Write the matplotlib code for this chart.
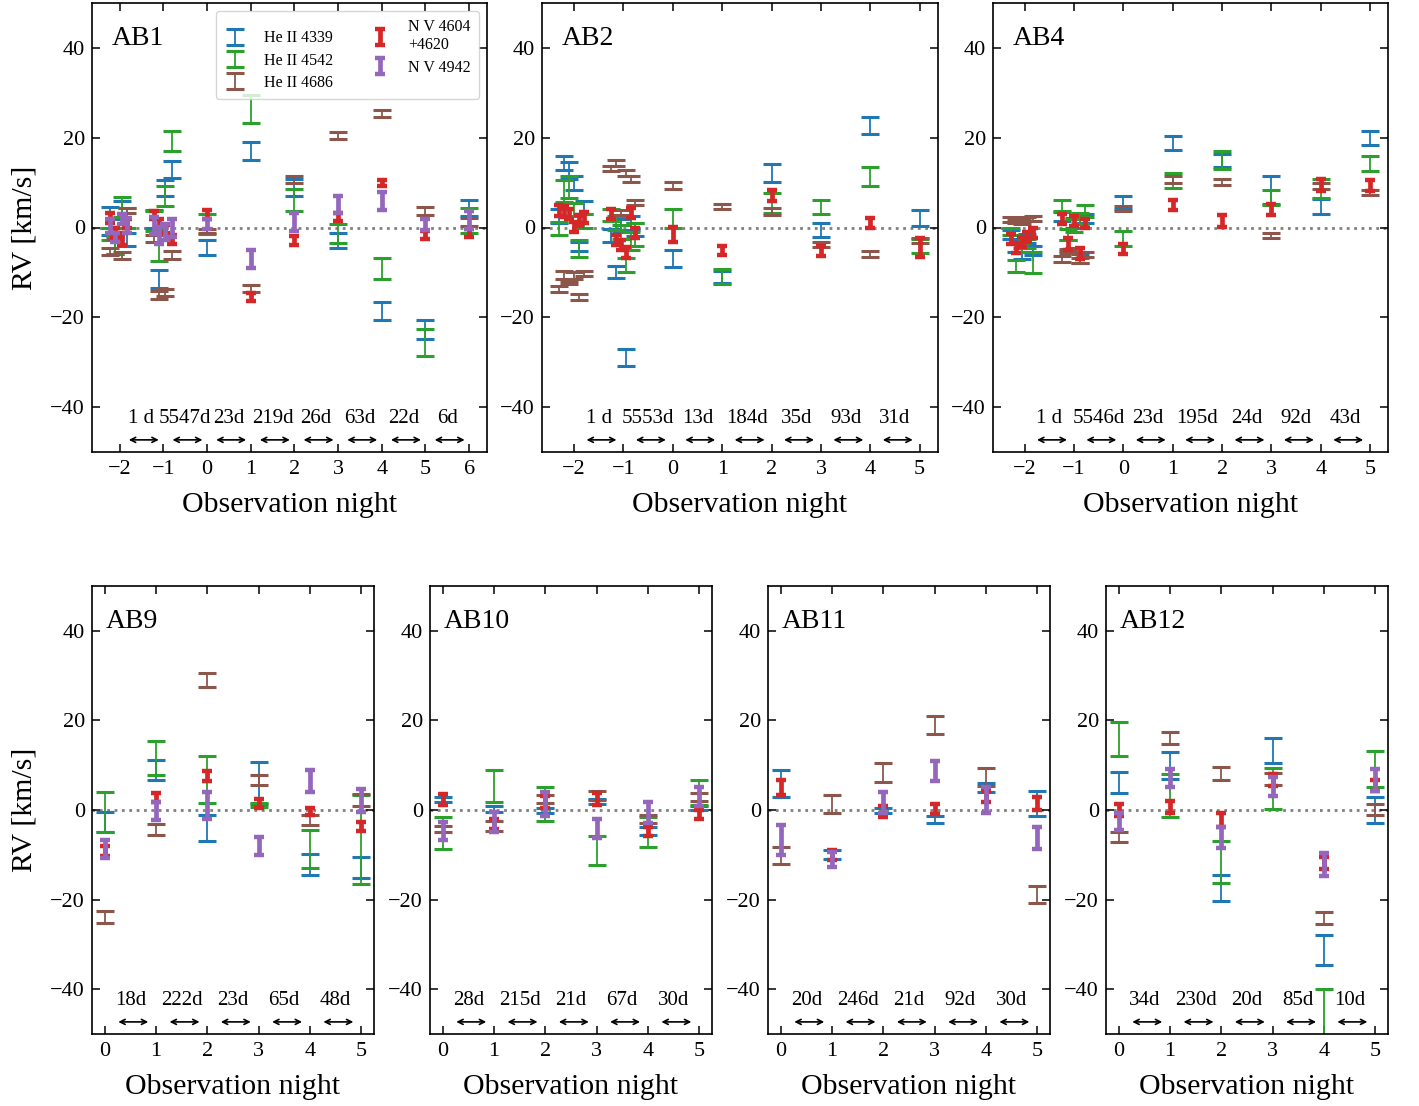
import numpy as np
import matplotlib
matplotlib.use("Agg")
import matplotlib.pyplot as plt
import matplotlib.transforms as mtransforms

plt.rcParams["font.family"] = "serif"
plt.rcParams["font.serif"] = ["Liberation Serif", "DejaVu Serif"]

NAN = np.nan

# ----------------------------
# AB1  (nights -2 and -1 hold several spectra each)
# ----------------------------
ab1_x = [-2.22, -2.1, -1.95, -1.82, -1.22, -1.1, -0.97, -0.8, 0, 1, 2, 3, 4, 5, 6]
ab1_he4339 = [1.5, -3.9, 3.9, -2.7, 2.0, -11.5, 8.8, 12.9, -4.5, 17.0, 8.9, -2.9, -18.6, -22.8, 4.3]
ab1_he4339_err = [3.1, 1.9, 2.0, 1.5, 2.0, 2.0, 1.85, 1.9, 1.7, 2.0, 1.9, 1.7, 2.1, 2.1, 1.8]
ab1_he4542 = [-1.5, -4.0, 4.6, 2.1, 1.5, -4.3, 7.0, 19.2, 0.7, 26.4, 6.1, -1.4, -9.1, -25.6, 1.6]
ab1_he4542_err = [1.3, 2.0, 2.2, 2.2, 2.2, 3.1, 2.2, 2.2, 2.2, 3.1, 2.4, 2.1, 2.3, 3.0, 2.8]
ab1_he4686 = [-5.3, -1.8, -6.3, 3.8, -2.5, -15.1, -14.4, -6.2, -0.8, -13.6, 10.7, 20.4, 25.4, 3.7, 1.2]
ab1_he4686_err = [0.75, 0.7, 0.75, 0.55, 0.8, 0.85, 0.8, 0.9, 0.4, 0.75, 0.7, 0.8, 0.8, 0.85, 0.9]
ab1_nv4604 = [2.1, -1.1, -2.6, 0.9, 2.7, 1.0, -0.4, -2.7, 2.9, -15.4, -3.0, 2.4, 9.9, -1.7, -1.2]
ab1_nv4604_err = [1.1, 1.1, 1.3, 1.1, 0.9, 0.9, 0.9, 1.0, 1.0, 0.9, 1.0, 0.9, 0.7, 0.9, 0.9]
ab1_nv4942 = [0.3, -2.2, 1.8, 0.4, 0.5, -1.7, -1.0, -0.1, 0.7, -7.0, 1.3, 5.2, 5.9, 0.7, 1.6]
ab1_nv4942_err = [1.5, 1.0, 1.1, 1.7, 1.9, 1.9, 1.8, 2.0, 1.1, 2.0, 2.0, 1.9, 2.0, 1.2, 2.0]
ab1_gaps = ["1 d", "5547d", "23d", "219d", "26d", "63d", "22d", "6d"]

# ----------------------------
# AB2
# ----------------------------
ab2_x = [-2.3, -2.2, -2.1, -2.0, -1.9, -1.8, -1.25, -1.15, -1.05, -0.95, -0.85, -0.77,
         0, 1, 2, 3, 4, 5]
ab2_he4339 = [2.6, 14.4, 12.6, 9.9, -4.3, 4.5, -1.8, -9.9, 0.5, -28.9, 1.0, -0.5,
              -6.9, -11.0, 12.1, -0.6, 22.8, 2.1]
ab2_he4339_err = [1.5, 1.6, 1.9, 1.5, 1.0, 1.5, 1.5, 1.4, 1.5, 1.85, 1.5, 1.5,
                  2.0, 1.3, 2.0, 1.5, 1.9, 1.8]
ab2_he4542 = [-0.2, 8.1, 9.0, 4.0, -4.7, 1.5, 2.8, 1.0, -1.0, -8.4, -3.0, -1.6,
              2.1, -10.9, 5.5, 4.6, 11.4, -4.1]
ab2_he4542_err = [1.5, 2.4, 2.5, 1.5, 1.9, 1.5, 1.4, 1.5, 1.5, 1.6, 2.0, 2.5,
                  2.1, 1.75, 2.2, 1.5, 2.1, 1.5]
ab2_he4686 = [-13.7, -10.6, -12.3, -10.6, -15.5, -10.3, 13.1, 14.4, 3.4, 12.1, 10.8, 5.6,
              9.3, 4.6, 3.6, -3.8, -5.9, -2.9]
ab2_he4686_err = [0.7, 0.9, 0.3, 0.8, 0.6, 0.6, 0.6, 0.6, 0.6, 0.6, 0.6, 0.55,
                  0.75, 0.55, 0.75, 0.5, 0.6, 0.55]
ab2_nv4604 = [3.8, 3.6, 3.0, 0.1, 1.6, 2.2, 3.1, -2.8, -3.8, -5.5, 3.2, -1.3,
              -1.6, -5.2, 7.1, -5.3, 1.0, -4.4]
ab2_nv4604_err = [1.2, 1.2, 1.2, 1.2, 1.2, 1.2, 1.1, 1.1, 1.1, 1.2, 1.1, 1.1,
                  1.7, 1.0, 1.2, 1.1, 1.1, 2.1]
ab2_nv4942 = [NAN] * 18
ab2_nv4942_err = [NAN] * 18
ab2_gaps = ["1 d", "5553d", "13d", "184d", "35d", "93d", "31d"]

# ----------------------------
# AB4
# ----------------------------
ab4_x = [-2.28, -2.17, -2.06, -1.95, -1.82, -1.25, -1.12, -1.0, -0.87, -0.77,
         0, 1, 2, 3, 4, 5]
ab4_he4339 = [-1.5, -4.5, -5.8, -2.5, -5.2, 2.5, -4.0, 1.0, -6.8, 2.0,
              5.6, 18.8, 14.9, 8.3, 4.6, 19.9]
ab4_he4339_err = [1.0, 1.0, 1.2, 1.0, 1.0, 1.0, 1.2, 1.2, 1.0, 1.0,
                  1.4, 1.6, 1.5, 3.1, 1.7, 1.6]
ab4_he4542 = [-0.8, -8.5, -4.5, -3.5, -7.8, 4.9, -1.5, 0.5, 2.0, 3.7,
              -2.5, 10.5, 15.0, 6.7, 8.6, 14.3]
ab4_he4542_err = [0.8, 1.3, 1.0, 1.0, 2.4, 1.3, 1.2, 1.5, 1.3, 1.3,
                  1.7, 1.7, 2.0, 1.6, 2.1, 1.7]
ab4_he4686 = [1.8, 1.5, 1.2, 1.9, 2.0, -7.0, -5.2, -5.0, -7.4, -6.0,
              4.2, 10.7, 10.1, -1.7, 9.3, 7.8]
ab4_he4686_err = [0.5, 0.5, 0.5, 0.5, 0.5, 0.65, 0.5, 0.5, 0.6, 0.5,
                  0.55, 0.75, 0.6, 0.55, 0.65, 0.5]
ab4_nv4604 = [-2.6, -4.6, -3.3, -2.2, -1.3, 1.8, -3.6, 1.4, -5.8, 1.0,
              -4.8, 5.0, 1.4, 4.0, 9.4, 9.3]
ab4_nv4604_err = [1.1, 1.1, 1.1, 1.1, 1.1, 1.1, 1.3, 1.1, 1.3, 1.0,
                  1.2, 1.2, 1.3, 1.3, 1.3, 1.2]
ab4_nv4942 = [NAN] * 16
ab4_nv4942_err = [NAN] * 16
ab4_gaps = ["1 d", "5546d", "23d", "195d", "24d", "92d", "43d"]

# ----------------------------
# Bottom row: one spectrum per night
# ----------------------------
nights = [0, 1, 2, 3, 4, 5]

ab9_he4339 = [-2.7, 8.9, -4.0, 6.0, -12.2, -12.8]
ab9_he4339_err = [2.3, 2.2, 2.9, 4.7, 2.4, 2.3]
ab9_he4542 = [-0.4, 11.6, 6.8, 1.2, -8.7, -6.6]
ab9_he4542_err = [4.4, 3.8, 5.3, 0.45, 4.3, 9.9]
ab9_he4686 = [-23.9, -4.3, 29.0, 6.7, -2.2, 2.2]
ab9_he4686_err = [1.3, 1.2, 1.6, 1.2, 1.1, 1.3]
ab9_nv4604 = [-9.1, 2.7, 7.6, 1.5, -0.3, -3.6]
ab9_nv4604_err = [1.1, 1.0, 1.1, 1.0, 0.8, 1.0]
ab9_nv4942 = [-8.8, -0.2, 1.1, -8.0, 6.5, 2.1]
ab9_nv4942_err = [2.0, 2.0, 3.0, 2.0, 2.4, 2.5]
ab9_gaps = ["18d", "222d", "23d", "65d", "48d"]

ab10_he4339 = [2.3, 0.26, -0.2, 1.9, -4.7, 0.5]
ab10_he4339_err = [0.6, 0.6, 0.55, 0.5, 0.85, 0.4]
ab10_he4542 = [-5.2, 5.4, 1.4, -9.0, -4.9, 3.9]
ab10_he4542_err = [3.6, 3.6, 3.8, 3.3, 3.3, 2.8]
ab10_he4686 = [-4.2, -3.5, 2.5, 3.3, -2.0, 2.8]
ab10_he4686_err = [0.65, 1.1, 0.85, 1.0, 0.85, 0.9]
ab10_nv4604 = [2.3, -3.2, 1.8, 2.4, -4.7, -1.0]
ab10_nv4604_err = [1.2, 1.1, 1.3, 1.3, 1.0, 1.1]
ab10_nv4942 = [-4.6, -2.6, 1.4, -4.1, -0.6, 3.0]
ab10_nv4942_err = [2.0, 2.2, 2.7, 2.1, 2.4, 2.2]
ab10_gaps = ["28d", "215d", "21d", "67d", "30d"]

ab11_he4339 = [5.9, -10.0, -0.1, -2.1, 5.1, 1.4]
ab11_he4339_err = [3.0, 1.0, 0.5, 0.8, 1.0, 2.85]
ab11_he4542 = [NAN] * 6
ab11_he4542_err = [NAN] * 6
ab11_he4686 = [-10.2, 1.4, 8.4, 18.9, 7.3, -18.9]
ab11_he4686_err = [1.85, 2.0, 2.2, 2.0, 2.0, 1.85]
ab11_nv4604 = [5.0, -10.1, -0.4, 0.2, 3.0, 1.5]
ab11_nv4604_err = [1.7, 1.1, 1.2, 1.15, 1.3, 1.5]
ab11_nv4942 = [-6.7, -11.0, 1.7, 8.7, 2.3, -6.3]
ab11_nv4942_err = [3.3, 1.7, 2.3, 2.2, 2.9, 2.4]
ab11_gaps = ["20d", "246d", "21d", "92d", "30d"]

ab12_he4339 = [6.1, 10.0, -17.4, 13.3, -31.2, -0.07]
ab12_he4339_err = [2.4, 3.0, 3.0, 2.8, 3.4, 2.9]
ab12_he4542 = [15.8, 3.3, -11.6, 4.8, -55.0, 9.2]
ab12_he4542_err = [3.8, 4.8, 4.7, 4.6, 15.0, 4.0]
ab12_he4686 = [-6.0, 16.0, 8.1, 6.9, -24.1, 0.1]
ab12_he4686_err = [1.2, 1.3, 1.5, 1.4, 1.3, 1.2]
ab12_nv4604 = [0.0, 0.6, -2.2, 6.7, -11.8, 5.5]
ab12_nv4604_err = [1.3, 1.3, 1.5, 1.4, 1.4, 1.2]
ab12_nv4942 = [-2.6, 7.1, -6.1, 5.3, -12.2, 6.7]
ab12_nv4942_err = [1.85, 2.0, 2.4, 2.1, 2.6, 2.4]
ab12_gaps = ["34d", "230d", "20d", "85d", "10d"]

LINE_LABELS = ["He II 4339", "He II 4542", "He II 4686", "N V 4604\n+4620", "N V 4942"]
LINE_COLORS = ["tab:blue", "tab:green", "tab:brown", "tab:red", "tab:purple"]

HE_STYLE = dict(elinewidth=1.3, capsize=6.5, capthick=2.2)
NV_STYLE = dict(elinewidth=3.4, capsize=3.6, capthick=3.2)


def draw_panel(fig, rect, name, x, lines, gaps, first_night, xlim, ylabel=False, legend=False):
    ax = fig.add_axes(rect)
    ax.axhline(0, color="grey", ls=":", lw=2, zorder=0)

    handles = []
    x = np.asarray(x, dtype=float)
    # purple before red so the red N V bars sit on top
    draw_order = [0, 1, 2, 4, 3]
    for i in draw_order:
        vals, errs = lines[i]
        vals = np.asarray(vals, dtype=float)
        errs = np.asarray(errs, dtype=float)
        ok = np.isfinite(vals)
        style = HE_STYLE if i < 3 else NV_STYLE
        if ok.any():
            h = ax.errorbar(x[ok], vals[ok], yerr=errs[ok], fmt="none",
                            ecolor=LINE_COLORS[i], label=LINE_LABELS[i],
                            zorder=2 + i * 0.1, **style)
        else:
            h = ax.errorbar([np.nan], [np.nan], yerr=[0], fmt="none",
                            ecolor=LINE_COLORS[i], label=LINE_LABELS[i], **style)
        handles.append((i, h))

    # time gaps between consecutive nights
    tr_r = mtransforms.offset_copy(ax.transData, fig=fig, x=15, y=0, units="dots")
    tr_l = mtransforms.offset_copy(ax.transData, fig=fig, x=-15, y=0, units="dots")
    for k, lab in enumerate(gaps):
        n0 = first_night + k
        ax.text(n0 + 0.5, -42.6, lab, ha="center", va="center", fontsize=15)
        xc = n0 + 0.555
        ax.annotate("", xy=(xc, -47.3), xycoords=tr_r, xytext=(xc, -47.3), textcoords=tr_l,
                    arrowprops=dict(arrowstyle="<->", lw=1.2, color="black",
                                    shrinkA=0, shrinkB=0, mutation_scale=9))

    ax.text(0.05, 0.948, name, transform=ax.transAxes, ha="left", va="top", fontsize=20)

    ax.set_xlim(*xlim)
    ax.set_ylim(-50, 50)
    ax.set_xticks(np.arange(int(np.ceil(xlim[0])), int(np.floor(xlim[1])) + 1))
    ax.set_yticks([-40, -20, 0, 20, 40])
    ax.tick_params(direction="in", top=True, right=True, length=6, width=1.1, labelsize=16)
    ax.tick_params(axis="x", pad=6)
    ax.tick_params(axis="y", pad=5)
    for sp in ax.spines.values():
        sp.set_linewidth(1.2)
    ax.set_xlabel("Observation night", fontsize=21.5, labelpad=9)
    if ylabel:
        ax.set_ylabel("RV [km/s]", fontsize=21.5, labelpad=9)

    if legend:
        hs = [h for _, h in sorted(handles, key=lambda t: t[0])]
        ax.legend(hs, LINE_LABELS, ncol=2, loc="upper right", fontsize=11.5,
                  handlelength=1.4, handletextpad=1.1, columnspacing=2.2,
                  labelspacing=0.4, borderpad=0.5)
    return ax


def lines_of(a, b, c, d, e, f, g, h, i, j):
    return [(a, b), (c, d), (e, f), (g, h), (i, j)]


fig = plt.figure(figsize=(14.19, 11.06), dpi=100)
W, H = 1419.0, 1106.0


def rect(left, top, right, bottom):
    return [left / W, 1 - bottom / H, (right - left) / W, (bottom - top) / H]


draw_panel(fig, rect(92, 3, 487, 452), "AB1", ab1_x,
           lines_of(ab1_he4339, ab1_he4339_err, ab1_he4542, ab1_he4542_err,
                    ab1_he4686, ab1_he4686_err, ab1_nv4604, ab1_nv4604_err,
                    ab1_nv4942, ab1_nv4942_err),
           ab1_gaps, -2, (-2.63, 6.41), ylabel=True, legend=True)
draw_panel(fig, rect(542, 3, 938, 452), "AB2", ab2_x,
           lines_of(ab2_he4339, ab2_he4339_err, ab2_he4542, ab2_he4542_err,
                    ab2_he4686, ab2_he4686_err, ab2_nv4604, ab2_nv4604_err,
                    ab2_nv4942, ab2_nv4942_err),
           ab2_gaps, -2, (-2.65, 5.37))
draw_panel(fig, rect(993, 3, 1388, 452), "AB4", ab4_x,
           lines_of(ab4_he4339, ab4_he4339_err, ab4_he4542, ab4_he4542_err,
                    ab4_he4686, ab4_he4686_err, ab4_nv4604, ab4_nv4604_err,
                    ab4_nv4942, ab4_nv4942_err),
           ab4_gaps, -2, (-2.64, 5.36))

bottom_xlim = (-0.25, 5.25)
draw_panel(fig, rect(92, 586, 374, 1034), "AB9", nights,
           lines_of(ab9_he4339, ab9_he4339_err, ab9_he4542, ab9_he4542_err,
                    ab9_he4686, ab9_he4686_err, ab9_nv4604, ab9_nv4604_err,
                    ab9_nv4942, ab9_nv4942_err),
           ab9_gaps, 0, bottom_xlim, ylabel=True)
draw_panel(fig, rect(430, 586, 712, 1034), "AB10", nights,
           lines_of(ab10_he4339, ab10_he4339_err, ab10_he4542, ab10_he4542_err,
                    ab10_he4686, ab10_he4686_err, ab10_nv4604, ab10_nv4604_err,
                    ab10_nv4942, ab10_nv4942_err),
           ab10_gaps, 0, bottom_xlim)
draw_panel(fig, rect(768, 586, 1050, 1034), "AB11", nights,
           lines_of(ab11_he4339, ab11_he4339_err, ab11_he4542, ab11_he4542_err,
                    ab11_he4686, ab11_he4686_err, ab11_nv4604, ab11_nv4604_err,
                    ab11_nv4942, ab11_nv4942_err),
           ab11_gaps, 0, bottom_xlim)
draw_panel(fig, rect(1106, 586, 1388, 1034), "AB12", nights,
           lines_of(ab12_he4339, ab12_he4339_err, ab12_he4542, ab12_he4542_err,
                    ab12_he4686, ab12_he4686_err, ab12_nv4604, ab12_nv4604_err,
                    ab12_nv4942, ab12_nv4942_err),
           ab12_gaps, 0, bottom_xlim)

fig.savefig("out.png", dpi=100)
